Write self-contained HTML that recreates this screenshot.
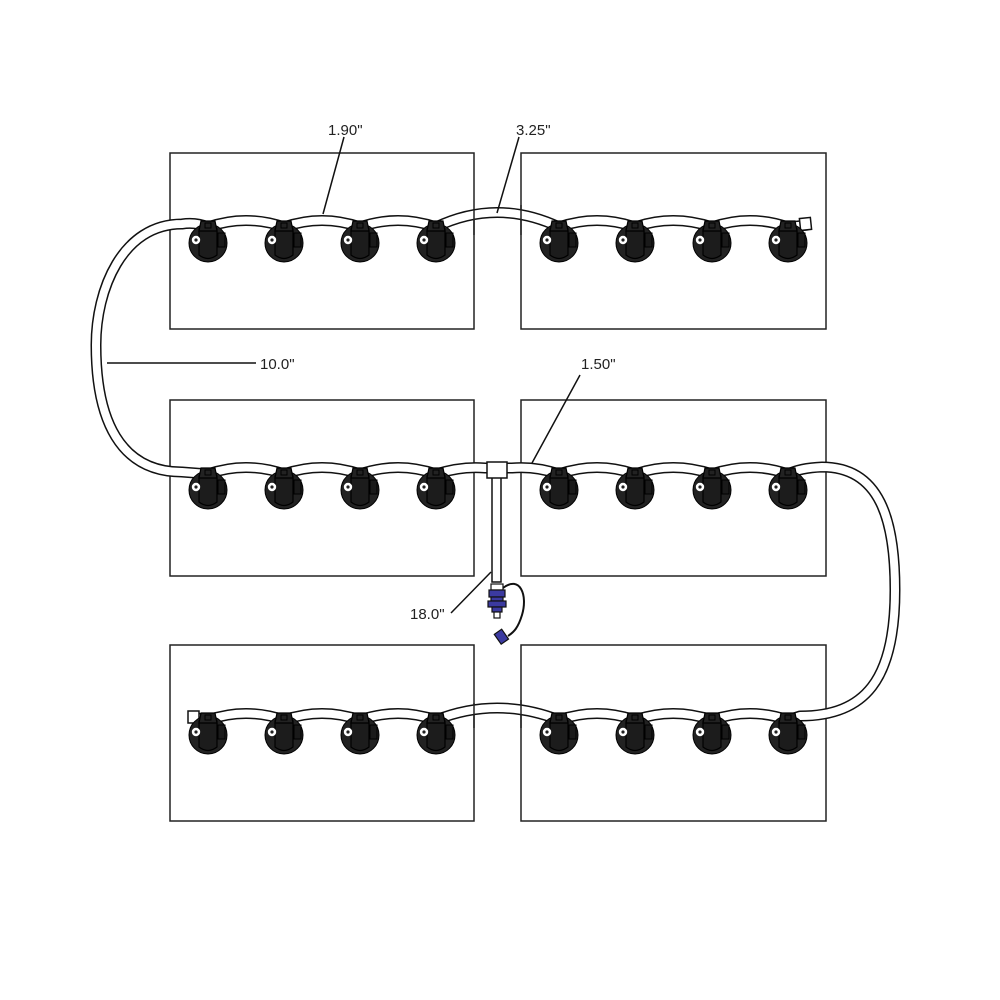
<!DOCTYPE html>
<html><head><meta charset="utf-8"><style>
html,body{margin:0;padding:0;background:#fff;}
svg{display:block;}
text{font-family:"Liberation Sans",sans-serif;font-size:15px;fill:#222;}
</style></head><body>
<svg width="1000" height="1000" viewBox="0 0 1000 1000" xmlns="http://www.w3.org/2000/svg">
<defs>
<g id="cap">
  <circle cx="0" cy="0" r="19" fill="#222" stroke="#000" stroke-width="1"/>
  <rect x="10" y="-10" width="7" height="14" fill="#1a1a1a" stroke="#000" stroke-width="1"/>
  <path d="M-9,-14 L9,-14 L9,12 Q0,19 -9,12 Z" fill="#1c1c1c" stroke="#000" stroke-width="1.2"/>
  <path d="M-7,-22 L7,-22 L9,-12 L-9,-12 Z" fill="#222" stroke="#000" stroke-width="1.2"/>
  <rect x="-3" y="-20" width="6" height="5" fill="none" stroke="#000" stroke-width="1"/>
  <circle cx="-12" cy="-3" r="4.2" fill="#fff"/>
  <circle cx="-12" cy="-3" r="1.6" fill="#222"/>
</g>
</defs>
<g fill="#fff" stroke="#222" stroke-width="1.5">
  <rect x="170" y="153" width="304" height="176"/>
  <rect x="521" y="153" width="305" height="176"/>
  <rect x="170" y="400" width="304" height="176"/>
  <rect x="521" y="400" width="305" height="176"/>
  <rect x="170" y="645" width="304" height="176"/>
  <rect x="521" y="645" width="305" height="176"/>
</g>
<g fill="none" stroke-linecap="butt" stroke-linejoin="round">
<path d="M808,225 L788,227 Q750,214 712,227 Q673,214 635,227 Q597,214 559,227 Q497,198 436,227 Q398,214 360,227 Q322,214 284,227 Q246,214 208,227 Q196,222 182,224 C122,224 96,290 96,345 C96,420 120,472 182,472 L208,474 Q246,461 284,474 Q322,461 360,474 Q398,461 436,474 Q462,466 485,468 L512,468 Q535,466 559,474 Q597,461 635,474 Q673,461 712,474 Q750,461 788,474 Q800,468 822,467 C880,467 895,520 895,590 C895,680 865,716 800,716 L788,720 Q750,707 712,720 Q673,707 635,720 Q597,707 559,720 Q497,696 436,720 Q398,707 360,720 Q322,707 284,720 Q246,707 208,720 L192,717" stroke="#111" stroke-width="11"/>
<path d="M808,225 L788,227 Q750,214 712,227 Q673,214 635,227 Q597,214 559,227 Q497,198 436,227 Q398,214 360,227 Q322,214 284,227 Q246,214 208,227 Q196,222 182,224 C122,224 96,290 96,345 C96,420 120,472 182,472 L208,474 Q246,461 284,474 Q322,461 360,474 Q398,461 436,474 Q462,466 485,468 L512,468 Q535,466 559,474 Q597,461 635,474 Q673,461 712,474 Q750,461 788,474 Q800,468 822,467 C880,467 895,520 895,590 C895,680 865,716 800,716 L788,720 Q750,707 712,720 Q673,707 635,720 Q597,707 559,720 Q497,696 436,720 Q398,707 360,720 Q322,707 284,720 Q246,707 208,720 L192,717" stroke="#fff" stroke-width="8"/>
</g>
<g stroke="#222" stroke-width="1.5">
<line x1="474" y1="210" x2="474" y2="235"/><line x1="521" y1="205" x2="521" y2="235"/>
<line x1="474" y1="703" x2="474" y2="728"/><line x1="521" y1="700" x2="521" y2="728"/>
</g>
<rect x="492" y="470" width="9" height="112" fill="#fff" stroke="#111" stroke-width="1.5"/>
<rect x="487" y="462" width="20" height="16" fill="#fff" stroke="#111" stroke-width="1.5"/>
<rect x="800" y="218" width="11" height="12" fill="#fff" stroke="#111" stroke-width="1.5" transform="rotate(-6 805 224)"/>
<rect x="188" y="711" width="11" height="12" fill="#fff" stroke="#111" stroke-width="1.5"/>
<g>
<use href="#cap" x="208" y="243"/><use href="#cap" x="284" y="243"/><use href="#cap" x="360" y="243"/><use href="#cap" x="436" y="243"/>
<use href="#cap" x="559" y="243"/><use href="#cap" x="635" y="243"/><use href="#cap" x="712" y="243"/><use href="#cap" x="788" y="243"/>
<use href="#cap" x="208" y="490"/><use href="#cap" x="284" y="490"/><use href="#cap" x="360" y="490"/><use href="#cap" x="436" y="490"/>
<use href="#cap" x="559" y="490"/><use href="#cap" x="635" y="490"/><use href="#cap" x="712" y="490"/><use href="#cap" x="788" y="490"/>
<use href="#cap" x="208" y="735"/><use href="#cap" x="284" y="735"/><use href="#cap" x="360" y="735"/><use href="#cap" x="436" y="735"/>
<use href="#cap" x="559" y="735"/><use href="#cap" x="635" y="735"/><use href="#cap" x="712" y="735"/><use href="#cap" x="788" y="735"/>
</g>
<path d="M503,588 C520,575 528,595 522,615 C518,628 514,632 508,636" fill="none" stroke="#111" stroke-width="2"/>
<rect x="491" y="584" width="12" height="6" fill="#fff" stroke="#111" stroke-width="1.2"/>
<rect x="489" y="590" width="16" height="7" fill="#3b3aa0" stroke="#111" stroke-width="1.2"/>
<rect x="491" y="597" width="12" height="4" fill="#3b3aa0" stroke="#111" stroke-width="1.2"/>
<rect x="488" y="601" width="18" height="6" fill="#3b3aa0" stroke="#111" stroke-width="1.2"/>
<rect x="492" y="607" width="10" height="5" fill="#3b3aa0" stroke="#111" stroke-width="1.2"/>
<rect x="494" y="612" width="6" height="6" fill="#fff" stroke="#111" stroke-width="1.2"/>
<rect x="497" y="631" width="9" height="12" fill="#3b3aa0" stroke="#111" stroke-width="1.2" transform="rotate(-35 501 637)"/>
<g stroke="#111" stroke-width="1.5">
<line x1="344" y1="137" x2="323" y2="214"/>
<line x1="519" y1="137" x2="497" y2="213"/>
<line x1="107" y1="363" x2="256" y2="363"/>
<line x1="580" y1="375" x2="532" y2="463"/>
<line x1="451" y1="613" x2="491" y2="572"/>
</g>
<text x="328" y="135">1.90"</text>
<text x="516" y="135">3.25"</text>
<text x="260" y="369">10.0"</text>
<text x="581" y="369">1.50"</text>
<text x="410" y="619">18.0"</text>
</svg>
</body></html>
